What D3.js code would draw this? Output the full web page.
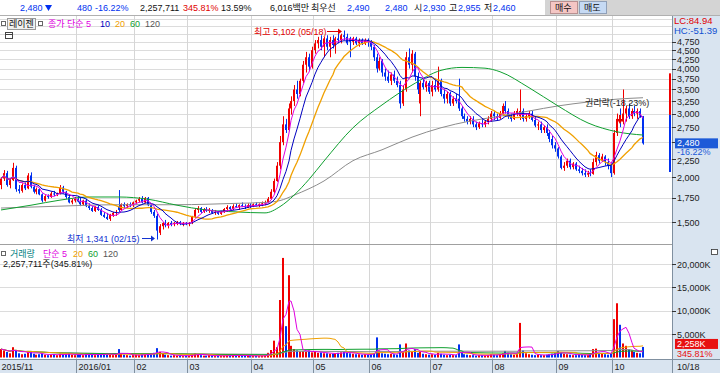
<!DOCTYPE html>
<html><head><meta charset="utf-8">
<script src="https://cdn.jsdelivr.net/npm/d3@7"></script>
<style>
body{margin:0;background:#fff;}
svg text{font-family:"Liberation Sans","Noto Sans CJK KR",sans-serif;font-size:9px;}
</style></head>
<body><svg id="c" width="720" height="373"></svg>
<script>
// ---------------- DATA ----------------
const opens = [1900,1980,2050,1900,1960,2120,1850,1830,1900,1860,
2020,1880,1820,1850,1790,1720,1770,1760,1800,1790,
1800,1870,1820,1760,1700,1720,1740,1710,1680,1720,
1660,1640,1610,1650,1620,1570,1550,1530,1570,1590,
1660,1620,1680,1660,1680,1670,1700,1720,1740,1700,
1750,1670,1600,1560,1400,1460,1490,1470,1490,1480,
1490,1500,1480,1490,1480,1490,1550,1620,1640,1600,
1630,1610,1620,1590,1600,1580,1600,1630,1650,1630,
1660,1650,1670,1660,1650,1670,1660,1680,1670,1680,
1690,1700,1740,1820,1950,2150,2500,2800,2700,3100,
3250,3500,3400,3700,4100,4300,4050,4500,4700,4800,
4600,4850,4600,4800,4650,4850,4800,4950,4900,4850,
4750,4850,4700,4800,4700,4800,4750,4600,4300,4000,
4200,3900,3800,3700,3850,3700,3600,3200,3500,4300,
4100,4400,3800,3200,3650,3550,3650,3450,3600,3500,
3700,3400,3300,3400,3200,3300,3300,3100,2950,2900,
2850,2900,2800,2750,2820,2800,2850,2900,3000,2950,
2920,3000,3150,3050,2950,2900,3000,2950,3050,2900,
2950,3000,2880,2780,2800,2700,2750,2650,2550,2450,
2400,2280,2120,2150,2220,2130,2180,2100,2080,2050,
2030,2050,2040,2200,2300,2220,2280,2200,2150,2050,
2650,2900,2850,3000,3100,2950,3050,3000,3050,2930];
const highs = [2000,2090,2080,1990,2190,2150,1900,1920,1930,2050,
2060,1900,1870,1860,1800,1780,1790,1820,1830,1810,
1900,1890,1830,1790,1740,1760,1770,1750,1730,1740,
1690,1660,1660,1670,1640,1600,1590,1580,1600,1620,
1840,1690,1700,1690,1700,1710,1730,1760,1770,1760,
1760,1680,1620,1580,1480,1500,1520,1500,1510,1500,
1510,1510,1500,1500,1500,1560,1640,1660,1650,1640,
1650,1640,1630,1620,1610,1610,1640,1670,1660,1680,
1690,1680,1700,1680,1690,1690,1690,1700,1690,1710,
1720,1760,1850,1980,2200,2600,2950,2900,3200,3350,
3600,3700,3750,4200,4450,4400,4600,4800,4900,4950,
4900,4950,4900,4950,4900,5000,5000,5102,5000,4900,
4900,4900,4850,4850,4850,4850,4800,4650,4400,4300,
4250,4000,3950,3900,3950,3800,3700,3600,4450,4550,
4500,4450,3900,3700,3750,3700,3700,3700,3750,4050,
3750,3500,3450,3450,3350,3400,3750,3150,3000,2950,
2950,2950,2850,2850,2900,2880,2950,3050,3050,3000,
3050,3200,3250,3100,3000,3050,3100,3500,3100,3000,
3050,3050,2950,2850,2850,2780,2800,2700,2600,2500,
2420,2300,2200,2250,2250,2200,2200,2150,2120,2100,
2080,2100,2250,2350,2330,2320,2300,2250,2180,2700,
3000,3100,3500,3150,3200,3100,3150,3100,3100,2955];
const lows = [1850,1950,1880,1860,1950,1820,1800,1810,1840,1850,
1860,1800,1790,1780,1700,1710,1740,1750,1770,1770,
1790,1800,1740,1690,1680,1700,1700,1660,1670,1650,
1620,1600,1600,1610,1560,1540,1520,1510,1550,1560,
1600,1610,1640,1640,1650,1650,1680,1700,1690,1690,
1660,1580,1540,1341,1380,1430,1450,1440,1460,1460,
1470,1470,1460,1470,1460,1480,1540,1590,1590,1590,
1600,1590,1580,1570,1570,1570,1590,1610,1620,1620,
1640,1620,1650,1630,1640,1640,1650,1660,1650,1660,
1670,1690,1730,1800,1940,2100,2450,2650,2680,2980,
3150,3300,3350,3650,3900,3950,4000,4400,4550,4500,
4300,4500,4300,4550,4400,4700,4700,4800,4650,4300,
4650,4650,4600,4650,4650,4600,4500,4200,3900,3950,
3800,3700,3650,3600,3650,3550,3100,3150,3450,4000,
3900,3700,3400,2950,3500,3450,3400,3350,3450,3450,
3350,3200,3200,3150,3150,3200,3050,2900,2850,2800,
2800,2750,2700,2720,2750,2750,2800,2850,2880,2880,
2900,2950,3000,2900,2850,2880,2950,2880,2850,2850,
2900,2850,2750,2700,2650,2650,2600,2500,2400,2350,
2250,2100,2080,2120,2100,2100,2080,2050,2020,2000,
2000,2010,2030,2150,2180,2200,2150,2100,2000,2030,
2600,2750,2800,2850,2900,2900,2950,2900,2920,2460];
const closes = [1980,2050,1900,1960,2120,1850,1830,1900,1860,2020,
1880,1820,1850,1790,1720,1770,1760,1800,1790,1800,
1870,1820,1760,1700,1720,1740,1710,1680,1720,1660,
1640,1610,1650,1620,1570,1550,1530,1570,1590,1600,
1620,1680,1660,1680,1670,1700,1720,1740,1700,1750,
1670,1600,1560,1420,1460,1490,1470,1490,1480,1490,
1500,1480,1490,1480,1490,1550,1620,1640,1600,1630,
1610,1620,1590,1600,1580,1600,1630,1650,1630,1660,
1650,1670,1660,1650,1670,1660,1680,1670,1680,1690,
1700,1740,1820,1950,2150,2500,2800,2700,3100,3250,
3500,3400,3700,4100,4300,4050,4500,4700,4800,4600,
4850,4600,4800,4650,4850,4800,4950,4900,4700,4750,
4850,4700,4800,4700,4800,4750,4600,4300,4000,4200,
3900,3800,3700,3850,3700,3600,3200,3500,4300,4100,
4400,3800,3500,3650,3550,3650,3450,3600,3500,3700,
3400,3300,3400,3200,3300,3250,3100,2950,2900,2850,
2900,2800,2750,2820,2800,2850,2900,3000,2950,2920,
3000,3150,3050,2950,2900,3000,3050,3050,2900,2950,
3000,2880,2780,2800,2700,2750,2650,2550,2450,2400,
2280,2120,2150,2220,2130,2180,2100,2080,2050,2030,
2050,2040,2200,2300,2220,2280,2200,2150,2050,2650,
2900,2850,3000,3100,2950,3050,3000,3050,2960,2480];
// volume in thousands of shares
const volumes = [1800,1500,1200,900,2200,1600,900,700,800,1400,
1300,800,600,700,900,600,500,600,700,500,
800,600,700,900,600,500,
700,600,500,800,600,700,500,600,800,700,
900,600,500,600,1800,900,600,500,400,500,
600,500,700,600,800,900,1000,2000,1200,800,
600,500,400,500,400,400,300,400,
400,700,900,700,500,400,400,500,400,300,
400,300,400,500,400,500,400,400,500,400,400,300,
300,400,300,400,400,1000,1600,3600,2200,12300,
21300,6700,17600,2500,1800,1500,1300,1400,1200,1500,1100,
1200,1000,1100,900,900,800,800,900,1000,1100,
1200,1000,900,800,700,700,600,700,600,
700,900,4300,1500,900,800,700,800,700,600,
2800,1300,3000,1500,1200,1800,1000,1200,800,700,600,
700,600,1000,800,600,500,600,500,500,2800,
1000,700,600,500,500,400,500,500,400,500,700,
600,500,700,900,1400,1000,700,600,800,7400,
1500,900,700,600,500,600,500,500,600,700,800,900,
1400,1000,800,700,600,500,500,700,600,500,
500,700,1800,1900,1000,900,700,600,800,
8200,11600,7000,3000,2500,1800,1500,1200,1000,900,2258];
// 60 / 120 day price moving averages (index, value)
const ma60Idx = [0,10,20,30,40,50,60,70,80,90,95,100,105,110,120,130,140,150,157,165,170,180,190,200,210,219];
const ma60Val = [1620,1670,1725,1760,1760,1735,1670,1620,1600,1590,1655,1780,1970,2215,2740,3170,3600,3955,4030,4010,3920,3540,3150,2825,2670,2615];
const ma120Idx = [0,10,20,30,40,50,60,70,80,90,95,100,110,120,130,140,150,160,170,180,190,200,210,219];
const ma120Val = [1640,1650,1660,1670,1675,1675,1675,1680,1690,1700,1720,1780,1950,2220,2380,2580,2740,2860,2950,3050,3150,3230,3290,3320];
const monthStart = [0,26,46,64,86,107,126,147,168,190,209];
const monthLabels = ["2015/11","2016/01","02","03","04","05","06","07","08","09","10"];
const priceTickLabels = [1500,1750,2000,2250,2500,2750,3000,3250,3500,3750,4000,4250,4500,4750];
const priceGrid = [1500,1750,2000,2250,2500,2750,3000,3250,3500,3750,4000,4250,4500,4750,5000,5250,5500];
const volTicks = [5000,10000,15000,20000];
const lastPrice = 2480, lastChangePct = "-16.22%";
const rangeBar = [3880, 2975, 2065]; // red top, split, blue bottom

// ---------------- SETUP ----------------
const svg = d3.select('#c');
const N = closes.length;
const STEP = 2.93, PX = 672;
const P_TOP = 16, P_BOT = 244, V_TOP = 245, V_BOT = 359;
const RED = '#f00000', BLUE = '#0030f0';
const C5='#e000e0', C10='#0000c0', C20='#f0a000', C60='#10a030', C120='#8c8c8c';

const x = d3.scaleBand().domain(d3.range(N)).range([0, N*STEP]).paddingInner(0.3).paddingOuter(0.1);
const cx = i => Math.round(x(i)) + 1;
const y = d3.scaleLog().domain([1500, 2000]).range([222, 177]);
const yv = d3.scaleLinear().domain([0, 20000]).range([357.5, 264]);

function txt(g, px, py, s, fill, opt={}) {
  const t = g.append('text').attr('x', px).attr('y', py).text(s).attr('fill', fill || '#000');
  if (opt.size) t.style('font-size', opt.size + 'px');
  if (opt.anchor) t.attr('text-anchor', opt.anchor);
  return t;
}
function sma(arr, n) { return arr.map((v,i)=>{ const s=Math.max(0,i-n+1); return d3.mean(arr.slice(s,i+1)); }); }

// backgrounds
svg.append('rect').attr('width',720).attr('height',373).attr('fill','#fff');
svg.append('rect').attr('x',PX).attr('y',15).attr('width',720-PX).attr('height',358).attr('fill','#d9e4f0');
svg.append('rect').attr('x',0).attr('y',V_BOT).attr('width',PX).attr('height',373-V_BOT).attr('fill','#d9e4f0');

// clip paths
const defs = svg.append('defs');
defs.append('clipPath').attr('id','cp').append('rect').attr('x',0).attr('y',P_TOP).attr('width',PX).attr('height',P_BOT-P_TOP);
defs.append('clipPath').attr('id','cv').append('rect').attr('x',0).attr('y',V_TOP).attr('width',PX).attr('height',V_BOT-V_TOP);

// grid
const grid = svg.append('g');
priceGrid.forEach(v=>{ const yy=Math.round(y(v))+0.5; if(yy>P_TOP && yy<P_BOT) grid.append('line').attr('x1',0).attr('x2',PX).attr('y1',yy).attr('y2',yy).attr('stroke','#dcdcdc'); });
volTicks.forEach(v=>{ const yy=Math.round(yv(v))+0.5; grid.append('line').attr('x1',0).attr('x2',PX).attr('y1',yy).attr('y2',yy).attr('stroke','#dcdcdc'); });
monthStart.forEach(m=>{ const xx=Math.round(x(m))-0.5; if(xx>0){
  grid.append('line').attr('x1',xx).attr('x2',xx).attr('y1',P_TOP).attr('y2',V_BOT).attr('stroke','#d6d6d6'); }});
// panel borders
svg.append('line').attr('x1',0).attr('x2',PX).attr('y1',P_BOT+0.5).attr('y2',P_BOT+0.5).attr('stroke','#a0a0a0');
svg.append('line').attr('x1',0).attr('x2',720).attr('y1',V_BOT+0.5).attr('y2',V_BOT+0.5).attr('stroke','#8090a0');
svg.append('line').attr('x1',PX+0.5).attr('x2',PX+0.5).attr('y1',15).attr('y2',373).attr('stroke','#8090a0');

// candles
const gc = svg.append('g').attr('clip-path','url(#cp)');
d3.range(N).forEach(i=>{
  const up = closes[i] >= opens[i];
  const col = up ? RED : BLUE;
  const bx = Math.round(x(i));
  gc.append('rect').attr('x',bx+1).attr('width',1).attr('y',y(highs[i])).attr('height',Math.max(1,y(lows[i])-y(highs[i]))).attr('fill',col);
  const yt = y(Math.max(opens[i],closes[i])), yb = y(Math.min(opens[i],closes[i]));
  gc.append('rect').attr('x',bx).attr('width',2).attr('y',yt).attr('height',Math.max(1,yb-yt)).attr('fill',col);
});
// moving averages
const lineP = d3.line().x(d=>cx(d[0])).y(d=>y(d[1]));
const curveP = d3.line().x(d=>cx(d[0])).y(d=>y(d[1])).curve(d3.curveMonotoneX);
gc.append('path').attr('d', curveP(ma120Idx.map((k,j)=>[k,ma120Val[j]]))).attr('fill','none').attr('stroke',C120).attr('stroke-width',1);
gc.append('path').attr('d', curveP(ma60Idx.map((k,j)=>[k,ma60Val[j]]))).attr('fill','none').attr('stroke',C60).attr('stroke-width',1);
[[20,C20,1.3],[10,C10,1],[5,C5,1]].forEach(([n,c,w])=>{
  const m = sma(closes,n);
  gc.append('path').attr('d', lineP(m.map((v,i)=>[i,v]))).attr('fill','none').attr('stroke',c).attr('stroke-width',w);
});

// volume bars
const gv = svg.append('g').attr('clip-path','url(#cv)');
d3.range(N).forEach(i=>{
  const col = closes[i] >= opens[i] ? RED : BLUE;
  const top = yv(volumes[i]);
  gv.append('rect').attr('x',Math.round(x(i))).attr('width',2).attr('y',top).attr('height',Math.max(1,yv(0)-top)).attr('fill',col);
});
const lineV = d3.line().x(d=>cx(d[0])).y(d=>yv(d[1]));
[[120,C120],[60,C60],[20,C20],[5,C5]].forEach(([n,c])=>{
  const m = sma(volumes,n);
  gv.append('path').attr('d', lineV(m.map((v,i)=>[i,v]))).attr('fill','none').attr('stroke',c).attr('stroke-width',1);
});

// right price axis
const ga = svg.append('g');
const yl = y(lastPrice);
priceTickLabels.forEach(v=>{
  const yy = y(v);
  ga.append('line').attr('x1',PX).attr('x2',PX+4).attr('y1',Math.round(yy)+0.5).attr('y2',Math.round(yy)+0.5).attr('stroke','#333');
  if (Math.abs(yy - yl) > 8) txt(ga, PX+5, yy + (yy > yl && yy - yl < 18 ? 5 : 3.5), d3.format(',')(v), '#222');
});
// LC/HC box
ga.append('rect').attr('x',PX+1).attr('y',15).attr('width',720-PX-1).attr('height',21).attr('fill','#d9e4f0');
txt(ga, PX+2, 23.5, 'LC:84.94', '#e00000', {size:9.5});
txt(ga, PX+2, 33.5, 'HC:-51.39', '#1050d0', {size:9.5});
// range bar
ga.append('rect').attr('x',669).attr('width',2).attr('y',y(rangeBar[0])).attr('height',y(rangeBar[1])-y(rangeBar[0])).attr('fill',RED);
ga.append('rect').attr('x',669).attr('width',2).attr('y',y(rangeBar[1])).attr('height',y(rangeBar[2])-y(rangeBar[1])).attr('fill',BLUE);
// current price box
ga.append('rect').attr('x',PX+1).attr('y',yl+5).attr('width',720-PX-1).attr('height',7).attr('fill','#d9e4f0');
ga.append('rect').attr('x',PX+3).attr('y',yl-5).attr('width',43).attr('height',10).attr('fill','#1c5ad8');
txt(ga, PX+5, yl+3, d3.format(',')(lastPrice), '#fff', {size:9});
txt(ga, PX+5, yl+11.5, lastChangePct, '#1c5ad8', {size:9});

// volume axis
volTicks.forEach(v=>{
  const yy=yv(v);
  ga.append('line').attr('x1',PX).attr('x2',PX+4).attr('y1',Math.round(yy)+0.5).attr('y2',Math.round(yy)+0.5).attr('stroke','#333');
  txt(ga, PX+5, yy+3.5, d3.format(',')(v)+'K', '#222');
});
const lastVolY = yv(volumes[N-1]);
ga.append('rect').attr('x',PX+3).attr('y',lastVolY-8).attr('width',43).attr('height',10).attr('fill','#e81010');
txt(ga, PX+5, lastVolY+0.5, d3.format(',')(Math.round(volumes[N-1]))+'K', '#fff', {size:9});
txt(ga, PX+5, lastVolY+10.5, '345.81%', '#e81010', {size:9});
ga.append('rect').attr('x',711.5).attr('y',249.5).attr('width',6).attr('height',5).attr('fill','#fff').attr('stroke','#333').attr('stroke-width',0.8);

// x axis
monthStart.forEach((m,k)=>{
  const xx = Math.round(x(m))-0.5;
  if (xx>0) svg.append('line').attr('x1',xx).attr('x2',xx).attr('y1',V_BOT).attr('y2',373).attr('stroke','#8090a0');
  txt(svg, Math.max(1,xx+2), 369.5, monthLabels[k], '#222');
});
txt(svg, PX+5, 369.5, '10/18', '#222');

// annotations
const gn = svg.append('g');
const hiI = highs.indexOf(d3.max(highs)), loI = lows.indexOf(d3.min(lows));
const hy = y(highs[hiI]);
txt(gn, cx(hiI)-90, hy+4, '최고 5,102 (05/18)', '#e00000');
gn.append('line').attr('x1',cx(hiI)-17).attr('x2',cx(hiI)-3).attr('y1',hy+1).attr('y2',hy+1).attr('stroke','#e00000');
gn.append('path').attr('d',`M${cx(hiI)-2},${hy+1} l-4,-3 v6 z`).attr('fill','#e00000');
const ly = y(lows[loI]);
txt(gn, cx(loI)-90, ly+2, '최저 1,341 (02/15)', '#1030d0');
gn.append('line').attr('x1',cx(loI)-15).attr('x2',cx(loI)-3).attr('y1',ly-1).attr('y2',ly-1).attr('stroke','#1030d0');
gn.append('path').attr('d',`M${cx(loI)-2},${ly-1} l-4,-3 v6 z`).attr('fill','#1030d0');
txt(gn, 585, 106, '권리락(-18.23%)', '#222');
gn.append('path').attr('d',`M${cx(211)-3},119 h6 l-3,5 z`).attr('fill','#e00000');
gn.append('rect').attr('x',cx(211)-1).attr('y',115).attr('width',2).attr('height',4).attr('fill','#e00000');

// header
const gh = svg.append('g');
gh.append('rect').attr('x',0).attr('y',0).attr('width',720).attr('height',15).attr('fill','#fff');
gh.append('rect').attr('x',545).attr('y',0).attr('width',175).attr('height',15).attr('fill','#d4d4d4');
gh.append('line').attr('x1',0).attr('x2',720).attr('y1',15.5).attr('y2',15.5).attr('stroke','#b0b0b0');
const HB = 11;
const hdr = [[20,'2,480',BLUE],[77,'480',BLUE],[95,'-16.22%',BLUE],[140,'2,257,711','#111'],[183,'345.81%','#e00000'],[221,'13.59%','#111'],
  [270,'6,016백만','#111'],[311,'최우선','#111'],[347,'2,490',BLUE],[385,'2,480',BLUE],[414,'시','#111'],[423,'2,930',BLUE],[449,'고','#111'],[458,'2,955',BLUE],[484,'저','#111'],[493,'2,460',BLUE]];
hdr.forEach(h=>txt(gh,h[0],HB,h[1],h[2]));
gh.append('path').attr('d','M45,5 h7 l-3.5,6 z').attr('fill',BLUE);
gh.append('rect').attr('x',550.5).attr('y',1.5).attr('width',27).attr('height',12).attr('fill','#f4c6c4').attr('stroke','#b89090');
txt(gh,555,11,'매수','#111');
gh.append('rect').attr('x',579.5).attr('y',1.5).attr('width',27).attr('height',12).attr('fill','#c6daf4').attr('stroke','#90a0b8');
txt(gh,584,11,'매도','#111');

// price legend
const gl = svg.append('g');
function sq(g, px, py){ g.append('rect').attr('x',px+0.5).attr('y',py+0.5).attr('width',4).attr('height',4).attr('fill','#fff').attr('stroke','#666'); }
sq(gl,1,21);
gl.append('rect').attr('x',7.5).attr('y',18.5).attr('width',28).attr('height',11).attr('fill','#f0f0f0').attr('stroke','#999');
txt(gl,9,27,'레이젠','#111');
sq(gl,38,21);
txt(gl,48,27,'종가 단순 5',C5); txt(gl,100,27,'10',C10); txt(gl,115,27,'20',C20); txt(gl,130,27,'60',C60); txt(gl,145,27,'120','#555');
gl.append('rect').attr('x',5.5).attr('y',32.5).attr('width',7).attr('height',6).attr('fill','#fff').attr('stroke','#444');
gl.append('line').attr('x1',5.5).attr('x2',12.5).attr('y1',34.5).attr('y2',34.5).attr('stroke','#444');
// volume legend
sq(gl,1,251);
txt(gl,10,257,'거래량','#008080'); txt(gl,43,257,'단순 5',C5); txt(gl,73,257,'20',C20); txt(gl,88,257,'60',C60); txt(gl,103,257,'120','#555');
txt(gl,3,267,'2,257,711주(345.81%)','#111');
</script></body></html>
